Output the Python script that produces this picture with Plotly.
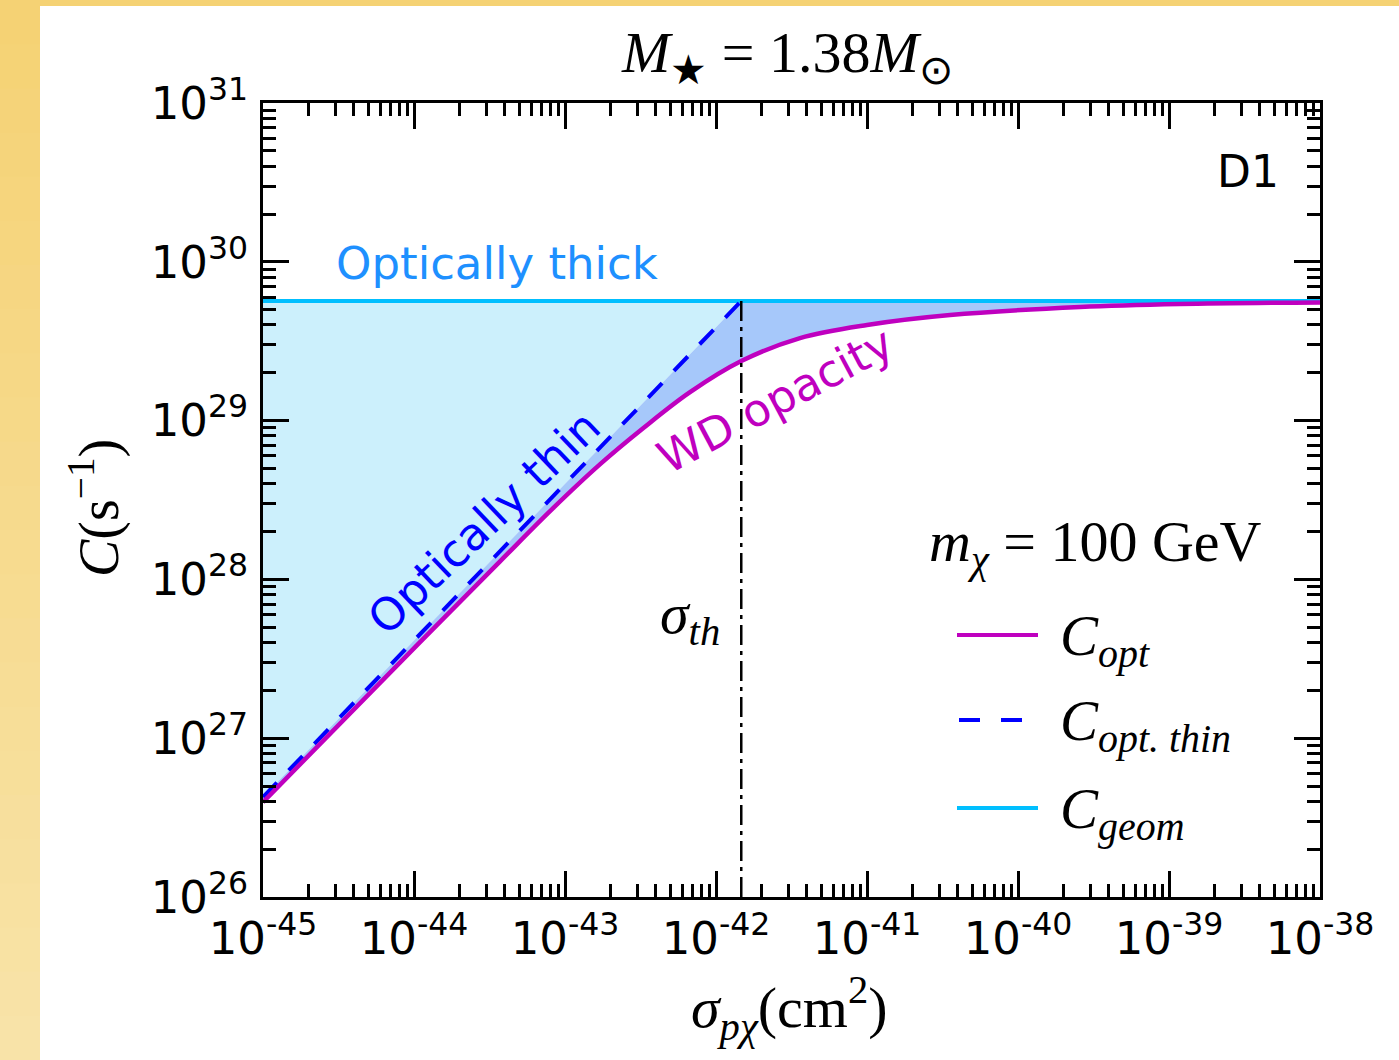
import plotly.graph_objects as go

# ---------------- data ----------------
sigma_opt = [1.00e-45, 1.096e-44, 3.715e-44, 8.34e-44, 1.71e-43, 3.29e-43, 6.73e-43,
             1.47e-42, 3.60e-42, 1.00e-41, 3.55e-41, 2.58e-40, 1.18e-39, 1.00e-38]
C_opt = [3.96e26, 4.03e27, 1.30e28, 2.81e28, 5.32e28, 8.95e28, 1.51e29,
         2.37e29, 3.31e29, 4.00e29, 4.62e29, 5.19e29, 5.42e29, 5.55e29]
sigma_thin = [1e-45, 1.47e-42]
C_thin = [4.26e26, 5.66e29]
sigma_geom = [1e-45, 1e-38]
C_geom = [5.66e29, 5.66e29]
sigma_th = 1.47e-42
C_floor = 1e26

x_tickvals = [1e-45, 1e-44, 1e-43, 1e-42, 1e-41, 1e-40, 1e-39, 1e-38]
x_ticktext = ["10<sup>-45</sup>", "10<sup>-44</sup>", "10<sup>-43</sup>", "10<sup>-42</sup>",
              "10<sup>-41</sup>", "10<sup>-40</sup>", "10<sup>-39</sup>", "10<sup>-38</sup>"]
y_tickvals = [1e26, 1e27, 1e28, 1e29, 1e30, 1e31]
y_ticktext = ["10<sup>26</sup>", "10<sup>27</sup>", "10<sup>28</sup>", "10<sup>29</sup>",
              "10<sup>30</sup>", "10<sup>31</sup>"]
x_minor = [m * 10.0 ** e for e in range(-45, -38) for m in range(2, 10)]
y_minor = [m * 10.0 ** e for e in range(26, 31) for m in range(2, 10)]

# ---------------- styles ----------------
MAG = "#BF00BF"
BLUE = "#0000FF"
GEOM = "#00BFFF"
CYAN_FILL = "#CCF0FC"
BLUE_FILL = "#A6C8FA"
SANS = "DejaVu Sans"
SERIF = "Liberation Serif"

W, H = 1399, 1060
L, R, T, B = 263, 1320, 103, 897


def px(xp):
    return (xp - L) / (R - L)


def py(yp):
    return (B - yp) / (B - T)


fig = go.Figure()

# cyan fill between geometric line and optically thin line
fig.add_trace(go.Scatter(x=sigma_geom, y=C_geom, mode="lines", line=dict(width=0),
                         hoverinfo="skip", showlegend=False))
fig.add_trace(go.Scatter(x=sigma_thin, y=C_thin, mode="lines", line=dict(width=0),
                         fill="tonexty", fillcolor=CYAN_FILL, hoverinfo="skip", showlegend=False))
# blue fill between min(thin, geom) and C_opt
fig.add_trace(go.Scatter(x=sigma_thin + [sigma_geom[-1]], y=C_thin + [C_geom[-1]], mode="lines",
                         line=dict(width=0), hoverinfo="skip", showlegend=False))
fig.add_trace(go.Scatter(x=sigma_opt, y=C_opt, mode="lines", line=dict(width=0, shape="spline"),
                         fill="tonexty", fillcolor=BLUE_FILL, hoverinfo="skip", showlegend=False))

# visible lines
fig.add_trace(go.Scatter(x=sigma_geom, y=C_geom, mode="lines", line=dict(color=GEOM, width=4),
                         name="C_geom", showlegend=False))
fig.add_trace(go.Scatter(x=sigma_thin, y=C_thin, mode="lines",
                         line=dict(color=BLUE, width=4, dash="20px,17px"),
                         name="C_opt_thin", showlegend=False))
fig.add_trace(go.Scatter(x=sigma_opt, y=C_opt, mode="lines",
                         line=dict(color=MAG, width=4.5, shape="spline"),
                         name="C_opt", showlegend=False))
fig.add_trace(go.Scatter(x=[sigma_th, sigma_th], y=[C_floor, C_geom[0]], mode="lines",
                         line=dict(color="black", width=2.5, dash="20px,6px,4px,6px"),
                         showlegend=False))

axis_common = dict(type="log", showgrid=False, zeroline=False, showline=True, linecolor="black",
                   linewidth=3, mirror="allticks", ticks="inside", ticklen=26, tickwidth=2.5,
                   tickcolor="black", tickfont=dict(family=SANS, size=45, color="black"))

fig.update_xaxes(**axis_common, range=[-45, -38], tickmode="array", tickvals=x_tickvals,
                 ticktext=x_ticktext,
                 minor=dict(ticks="inside", ticklen=13, tickwidth=2.5, tickcolor="black",
                            tickmode="array", tickvals=x_minor, showgrid=False))
fig.update_yaxes(**axis_common, range=[26, 31], tickmode="array", tickvals=y_tickvals,
                 ticktext=y_ticktext, ticklabelstandoff=3,
                 minor=dict(ticks="inside", ticklen=13, tickwidth=2.5, tickcolor="black",
                            tickmode="array", tickvals=y_minor, showgrid=False))

# background strips (yellow left gradient + top strip)
shapes = []
nb = 24
c0 = (245, 210, 116)
c1 = (248, 227, 168)
for i in range(nb):
    f = i / (nb - 1)
    col = "rgb(%d,%d,%d)" % tuple(round(c0[k] + (c1[k] - c0[k]) * f) for k in range(3))
    y_top = i * H / nb
    y_bot = (i + 1) * H / nb + 1
    shapes.append(dict(type="rect", xref="paper", yref="paper", x0=px(0), x1=px(40),
                       y0=py(y_bot), y1=py(y_top), fillcolor=col, line=dict(width=0), layer="below"))
shapes.append(dict(type="rect", xref="paper", yref="paper", x0=px(0), x1=px(W),
                   y0=py(6), y1=py(0), fillcolor="rgb(245,210,116)", line=dict(width=0), layer="below"))

# legend drawn by hand
leg_y = [635, 720, 808]
shapes.append(dict(type="line", xref="paper", yref="paper", x0=px(957), x1=px(1038),
                   y0=py(leg_y[0]), y1=py(leg_y[0]), line=dict(color=MAG, width=4)))
shapes.append(dict(type="line", xref="paper", yref="paper", x0=px(959), x1=px(1030),
                   y0=py(leg_y[1]), y1=py(leg_y[1]), line=dict(color=BLUE, width=4, dash="21px,21px")))
shapes.append(dict(type="line", xref="paper", yref="paper", x0=px(957), x1=px(1038),
                   y0=py(leg_y[2]), y1=py(leg_y[2]), line=dict(color=GEOM, width=4)))

ann = []


def add_text(text, x, y, size, family, color="black", angle=0, xanchor="center"):
    ann.append(dict(text=text, xref="paper", yref="paper", x=px(x), y=py(y), showarrow=False,
                    font=dict(family=family, size=size, color=color), textangle=angle,
                    xanchor=xanchor, yanchor="middle"))


add_text("<i>M</i><sub>★</sub> = 1.38<i>M</i><sub>⊙</sub>", 787, 57, 58, SERIF)
add_text("<i>σ</i><sub><i>pχ</i></sub>(cm<sup>2</sup>)", 789, 1008, 58, SERIF)
add_text("<i>C</i>(s<sup>−1</sup>)", 95, 508, 56, SERIF, angle=-90)
add_text("D1", 1248, 172, 44, SANS)
add_text("Optically thick", 497, 263, 45, SANS, color="#1E90FF")
add_text("Optically thin", 484, 522, 45, SANS, color=BLUE, angle=-43.7)
add_text("WD opacity", 775, 400, 45, SANS, color=MAG, angle=-28)
add_text("<i>σ<sub>th</sub></i>", 690, 617, 58, SERIF)
add_text("<i>m</i><sub><i>χ</i></sub> = 100 GeV", 1095, 545, 58, SERIF)
add_text("<i>C<sub>opt</sub></i>", 1058, 640, 57, SERIF, xanchor="left")
add_text("<i>C<sub>opt. thin</sub></i>", 1058, 725, 57, SERIF, xanchor="left")
add_text("<i>C<sub>geom</sub></i>", 1058, 813, 57, SERIF, xanchor="left")

fig.update_layout(width=W, height=H, margin=dict(l=L, r=W - R, t=T, b=H - B),
                  paper_bgcolor="white", plot_bgcolor="white", shapes=shapes, annotations=ann,
                  showlegend=False)

fig.write_html("out.html")
